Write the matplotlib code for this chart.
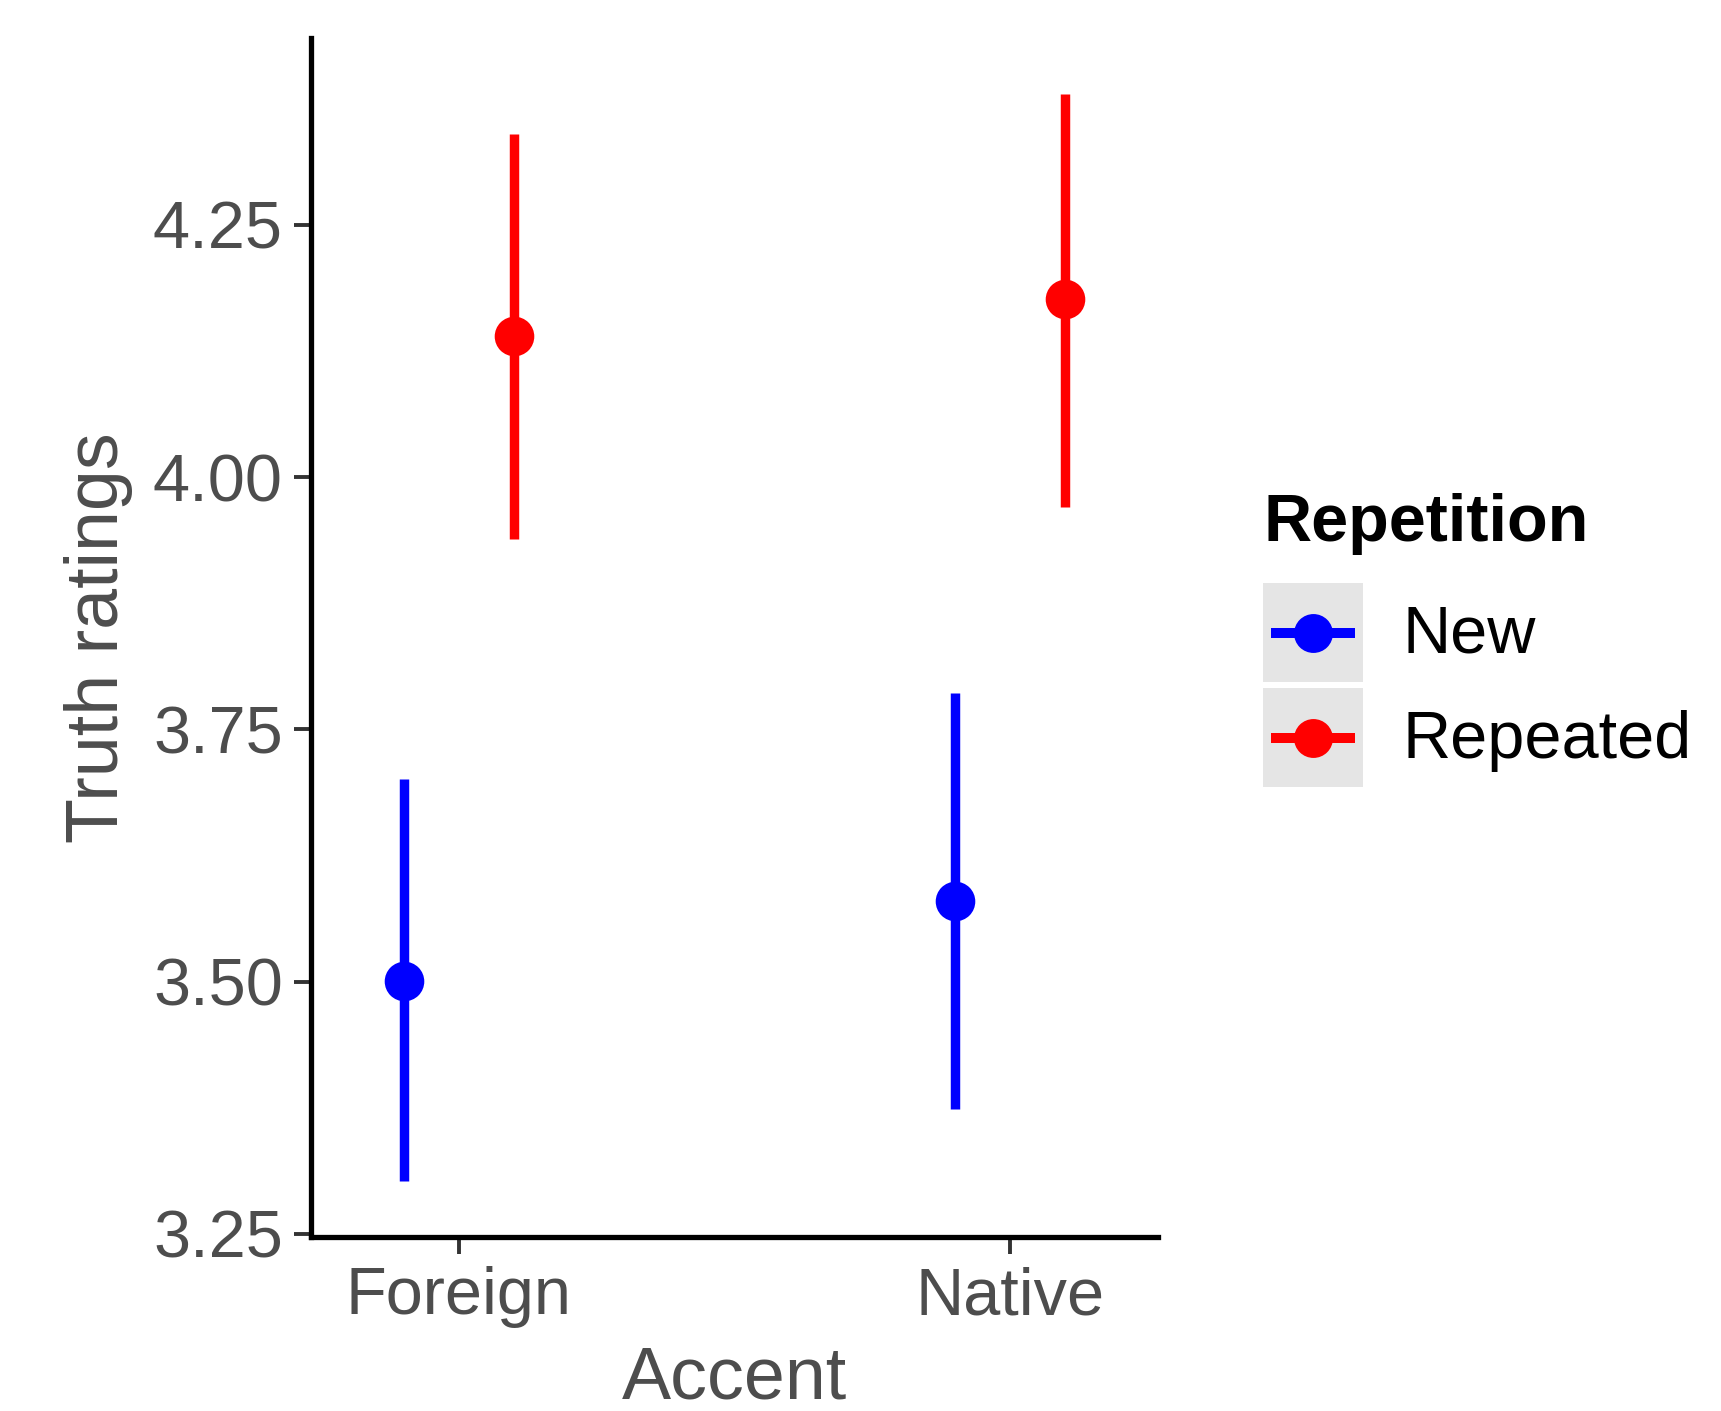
import matplotlib
matplotlib.use("Agg")
import matplotlib.pyplot as plt
from matplotlib.lines import Line2D
from matplotlib.patches import Rectangle
import numpy as np

plt.rcParams['font.family'] = ['Liberation Sans', 'DejaVu Sans']

categories = ["Foreign", "Native"]
series = ["New", "Repeated"]
colors = {"New": "#0000FF", "Repeated": "#FF0000"}
means = {"New": [3.501, 3.580], "Repeated": [4.140, 4.176]}
lower = {"New": [3.302, 3.374], "Repeated": [3.939, 3.970]}
upper = {"New": [3.701, 3.786], "Repeated": [4.340, 4.380]}
yticks = [3.25, 3.50, 3.75, 4.00, 4.25]
ytick_labels = ["3.25", "3.50", "3.75", "4.00", "4.25"]

W, H = 1721, 1411
fig = plt.figure(figsize=(W / 100, H / 100), dpi=100)
ax = fig.add_axes([310.6 / W, 1 - 1237 / H, (1158 - 310.6) / W, (1237 - 38) / H])

x = np.arange(1, len(categories) + 1)
offsets = {"New": -0.1, "Repeated": 0.1}
for s in series:
    xs = x + offsets[s]
    m = np.array(means[s])
    lo = np.array(lower[s])
    hi = np.array(upper[s])
    ax.vlines(xs, lo, hi, color=colors[s], lw=6.8, zorder=2)
    ax.plot(xs, m, 'o', color=colors[s], ms=28.5, zorder=3, mec='none')

ax.set_xlim(0.731, 2.269)
ax.set_ylim(3.247, 4.435)
ax.set_xticks(x)
ax.set_xticklabels(categories)
ax.set_yticks(yticks)
ax.set_yticklabels(ytick_labels)
for sp in ["top", "right"]:
    ax.spines[sp].set_visible(False)
for sp in ["left", "bottom"]:
    ax.spines[sp].set_linewidth(3.8)
    ax.spines[sp].set_color("black")
ax.tick_params(axis='both', length=12, width=2.8, color="#333333",
               labelsize=48, labelcolor="#4D4D4D")
ax.tick_params(axis='y', pad=8)
ax.tick_params(axis='x', pad=9)
ax.set_xlabel("Accent", fontsize=53, color="#4D4D4D", labelpad=12)
ax.set_ylabel("Truth ratings", fontsize=53, color="#4D4D4D", labelpad=14)

# Legend (drawn in figure pixel coords)
def fx(px):
    return px / W
def fy(py):
    return 1 - py / H

fig.text(fx(1263), fy(541), "Repetition", fontsize=48, fontweight='bold',
         color='black', ha='left', va='baseline')
key_tops = [583, 688]
for s, top in zip(series, key_tops):
    fig.patches.append(Rectangle((fx(1263), fy(top + 99)), 100 / W, 99 / H,
                                 transform=fig.transFigure, facecolor="#E5E5E5",
                                 edgecolor='none'))
    cy = top + 49.5
    fig.lines.append(Line2D([fx(1271), fx(1355)], [fy(cy), fy(cy)],
                            transform=fig.transFigure, color=colors[s], lw=7.2,
                            solid_capstyle='butt'))
    fig.lines.append(Line2D([fx(1313)], [fy(cy)], transform=fig.transFigure,
                            marker='o', ms=28, color=colors[s], mec='none'))
    fig.text(fx(1402), fy(cy + 3), s, fontsize=48, color='black', ha='left',
             va='center')

fig.savefig("out.png", dpi=100, facecolor='white')
